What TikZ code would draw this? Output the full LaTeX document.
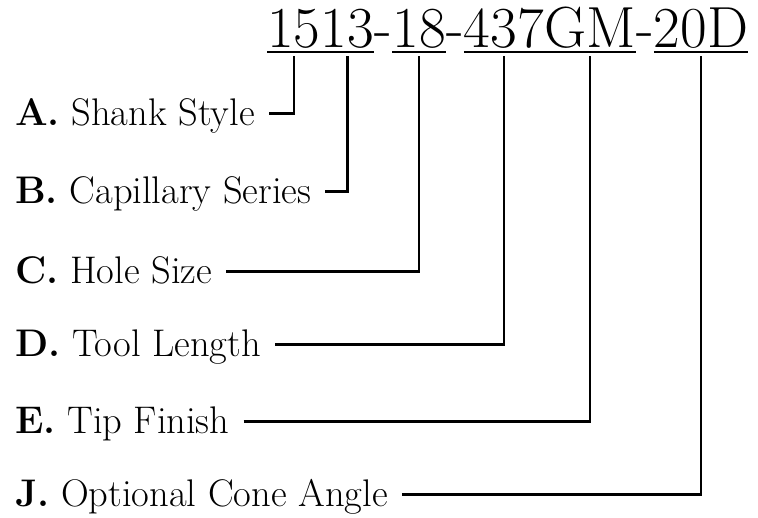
\documentclass[tikz,border=0pt]{standalone}
\usepackage{tikz}
\usetikzlibrary{positioning}
\tikzset{
  part/.style={inner sep=0pt, font=\fontsize{58}{64}\selectfont, text height=40pt, text depth=5pt},
  field/.style={anchor=base west, inner sep=0pt, font=\fontsize{38.5}{42}\selectfont, text height=30pt, text depth=7pt},
  uline/.style={line width=2pt},
  link/.style={line width=2.4pt, shorten <=14pt, shorten >=4pt}
}

\begin{document}
\begin{tikzpicture}[x=1pt, y=1pt]
  \useasboundingbox (0,0) rectangle (758,-517);
  % part number
  \node[part, anchor=base west] (p15) at (267,-47) {15};
  \node[part, right=0pt of p15] (p13) {13};
  \node[part, right=0pt of p13] (d1) {-};
  \node[part, right=0pt of d1] (p18) {18};
  \node[part, right=0pt of p18] (d2) {-};
  \node[part, right=0pt of d2] (p437) {437};
  \node[part, right=0pt of p437] (pGM) {GM};
  \node[part, right=0pt of pGM] (d3) {-};
  \node[part, right=0pt of d3] (p20D) {20D};
  \draw[uline] (p15.south west) -- (p13.south east);
  \draw[uline] (p18.south west) -- (p18.south east);
  \draw[uline] (p437.south west) -- (pGM.south east);
  \draw[uline] (p20D.south west) -- (p20D.south east);

  % fields
  \node[field] (fA) at (15,-125) {\textbf{A.} Shank Style};
  \node[field] (fB) at (15,-203) {\textbf{B.} Capillary Series};
  \node[field] (fC) at (15,-283) {\textbf{C.} Hole Size};
  \node[field] (fD) at (15,-356) {\textbf{D.} Tool Length};
  \node[field] (fE) at (15,-433) {\textbf{E.} Tip Finish};
  \node[field] (fJ) at (15,-506) {\textbf{J.} Optional Cone Angle};

  \draw[link] (fA) -| (p15);
  \draw[link] (fB) -| (p13);
  \draw[link] (fC) -| (p18);
  \draw[link] (fD) -| (p437);
  \draw[link] (fE) -| (pGM);
  \draw[link] (fJ) -| (p20D);
\end{tikzpicture}
\end{document}
